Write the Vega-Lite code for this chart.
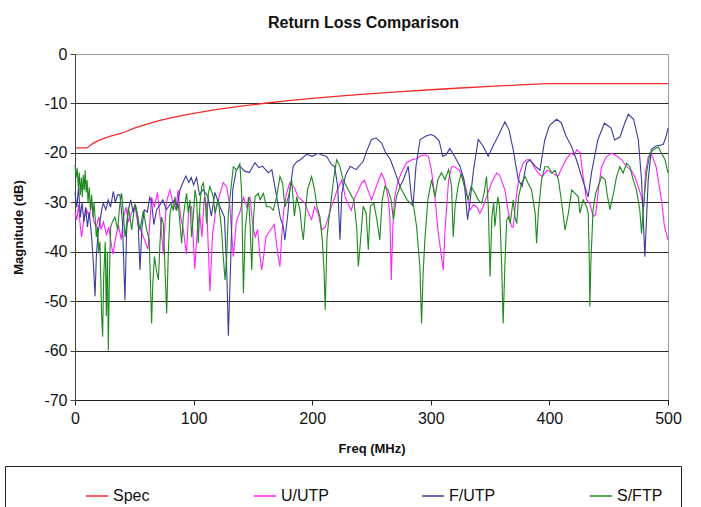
{
  "$schema": "https://vega.github.io/schema/vega-lite/v6.json",
  "autosize": {"type": "none"},
  "padding": {"left": 75, "top": 54, "right": 33, "bottom": 107},
  "width": 593,
  "height": 346,
  "background": "white",
  "config": {
    "font": "Liberation Sans",
    "view": {"stroke": "#9a9a9a", "strokeWidth": 1}
  },
  "title": {
    "text": "Return Loss Comparison",
    "fontSize": 16,
    "fontWeight": "bold",
    "color": "#111",
    "offset": 15,
    "dx": -8
  },
  "datasets": {
    "spec": [
      {"f": 1, "m": -19}, {"f": 5, "m": -19}, {"f": 10, "m": -19}, {"f": 15, "m": -18.12},
      {"f": 20, "m": -17.49}, {"f": 25, "m": -17.01}, {"f": 30, "m": -16.61}, {"f": 40, "m": -15.98},
      {"f": 50, "m": -15.01}, {"f": 60, "m": -14.22}, {"f": 70, "m": -13.55}, {"f": 80, "m": -12.97},
      {"f": 90, "m": -12.46}, {"f": 100, "m": -12}, {"f": 120, "m": -11.21}, {"f": 140, "m": -10.54},
      {"f": 160, "m": -9.96}, {"f": 180, "m": -9.45}, {"f": 200, "m": -8.99}, {"f": 225, "m": -8.48},
      {"f": 250, "m": -8.02}, {"f": 275, "m": -7.61}, {"f": 300, "m": -7.23}, {"f": 325, "m": -6.88},
      {"f": 350, "m": -6.56}, {"f": 375, "m": -6.26}, {"f": 398, "m": -6}, {"f": 450, "m": -6},
      {"f": 500, "m": -6}
    ],
    "utp": [
      {"f": 0, "m": -32}, {"f": 1.5, "m": -33.5}, {"f": 3, "m": -30.5}, {"f": 4.5, "m": -35},
      {"f": 5.6, "m": -37}, {"f": 7.5, "m": -33.5}, {"f": 9.8, "m": -31.5}, {"f": 12, "m": -33},
      {"f": 14, "m": -30}, {"f": 16, "m": -34}, {"f": 18, "m": -35}, {"f": 20, "m": -33},
      {"f": 22, "m": -35.5}, {"f": 24, "m": -34}, {"f": 26.5, "m": -36.5}, {"f": 28.5, "m": -35},
      {"f": 30, "m": -37.5}, {"f": 32, "m": -40.5}, {"f": 34, "m": -37.5}, {"f": 36.5, "m": -34.5},
      {"f": 39, "m": -37.5}, {"f": 41, "m": -33}, {"f": 43, "m": -31}, {"f": 45, "m": -34},
      {"f": 48, "m": -32}, {"f": 50.5, "m": -30.5}, {"f": 53, "m": -34.5}, {"f": 56, "m": -36},
      {"f": 58.5, "m": -37.5}, {"f": 61.5, "m": -39.5}, {"f": 64.6, "m": -29}, {"f": 67, "m": -31},
      {"f": 69.5, "m": -28}, {"f": 72, "m": -33.5}, {"f": 74.5, "m": -40.5}, {"f": 77, "m": -30},
      {"f": 80, "m": -27.5}, {"f": 82.5, "m": -30}, {"f": 85, "m": -31.5}, {"f": 87, "m": -27.5},
      {"f": 89, "m": -33}, {"f": 91, "m": -35}, {"f": 94, "m": -40.5}, {"f": 96, "m": -31},
      {"f": 98.3, "m": -30.9}, {"f": 101, "m": -43.5}, {"f": 103, "m": -36}, {"f": 105, "m": -32},
      {"f": 107, "m": -37}, {"f": 109, "m": -29}, {"f": 111, "m": -30.5}, {"f": 113.8, "m": -48},
      {"f": 116, "m": -36.5}, {"f": 119, "m": -31}, {"f": 122, "m": -28.5}, {"f": 125, "m": -26},
      {"f": 128, "m": -27}, {"f": 130.6, "m": -30.9}, {"f": 133.5, "m": -41}, {"f": 136, "m": -34},
      {"f": 139, "m": -32}, {"f": 142, "m": -29}, {"f": 145, "m": -31}, {"f": 147.5, "m": -28.9},
      {"f": 150, "m": -34.9}, {"f": 152, "m": -37}, {"f": 154, "m": -35.5}, {"f": 156, "m": -41},
      {"f": 157.4, "m": -43.7}, {"f": 159, "m": -41}, {"f": 161, "m": -37}, {"f": 165, "m": -35.5},
      {"f": 168, "m": -34.5}, {"f": 171, "m": -40.5}, {"f": 172.8, "m": -43}, {"f": 174, "m": -38},
      {"f": 176, "m": -31.5}, {"f": 178.4, "m": -28.2}, {"f": 181, "m": -26.1}, {"f": 185, "m": -27},
      {"f": 188, "m": -28.9}, {"f": 191, "m": -29.5}, {"f": 194, "m": -30.2}, {"f": 197, "m": -32.2},
      {"f": 199.5, "m": -33.5}, {"f": 202, "m": -30.9}, {"f": 205, "m": -32.2}, {"f": 208, "m": -35.6},
      {"f": 211, "m": -35}, {"f": 213, "m": -33.5}, {"f": 216, "m": -31}, {"f": 219, "m": -29},
      {"f": 221, "m": -27.5}, {"f": 223, "m": -26.5}, {"f": 225, "m": -25.5}, {"f": 228, "m": -29},
      {"f": 230, "m": -30.2}, {"f": 233, "m": -31.6}, {"f": 236, "m": -29}, {"f": 239, "m": -27.5},
      {"f": 241.6, "m": -26.1}, {"f": 244, "m": -25.5}, {"f": 247, "m": -27.5}, {"f": 250, "m": -29.5},
      {"f": 253, "m": -27.5}, {"f": 256, "m": -25.5}, {"f": 258.4, "m": -24.1}, {"f": 261, "m": -25.5},
      {"f": 264, "m": -29}, {"f": 265.5, "m": -33}, {"f": 266.7, "m": -45.7}, {"f": 268, "m": -35},
      {"f": 269.5, "m": -29}, {"f": 272, "m": -26.1}, {"f": 275, "m": -24.1}, {"f": 279.6, "m": -22},
      {"f": 284, "m": -21.4}, {"f": 288, "m": -21.2}, {"f": 290.8, "m": -20.7}, {"f": 295, "m": -20.4},
      {"f": 298, "m": -20.7}, {"f": 300.5, "m": -23.5}, {"f": 303.5, "m": -28.9}, {"f": 306, "m": -35.6},
      {"f": 309, "m": -41}, {"f": 310.5, "m": -43.7}, {"f": 312, "m": -35.6}, {"f": 315, "m": -25.5},
      {"f": 317.5, "m": -22.8}, {"f": 320, "m": -22.8}, {"f": 324, "m": -23.5}, {"f": 327, "m": -24.8},
      {"f": 330, "m": -27.5}, {"f": 333, "m": -31.6}, {"f": 336, "m": -30.5}, {"f": 339, "m": -31},
      {"f": 341.4, "m": -32.2}, {"f": 344, "m": -31}, {"f": 347, "m": -28.9}, {"f": 351, "m": -26.2},
      {"f": 355.5, "m": -24.1}, {"f": 358, "m": -24.5}, {"f": 362.5, "m": -27.5}, {"f": 365, "m": -31.5},
      {"f": 368, "m": -34.9}, {"f": 369.5, "m": -35}, {"f": 372, "m": -29}, {"f": 375, "m": -24.1},
      {"f": 378, "m": -22}, {"f": 381, "m": -21.4}, {"f": 384, "m": -21.4}, {"f": 387, "m": -22.8},
      {"f": 390.6, "m": -24.1}, {"f": 394, "m": -24.8}, {"f": 398, "m": -23.5}, {"f": 403, "m": -24.1},
      {"f": 407, "m": -24.8}, {"f": 411, "m": -22.8}, {"f": 414.6, "m": -21.1}, {"f": 418, "m": -20.1},
      {"f": 421, "m": -20.4}, {"f": 423, "m": -19.4}, {"f": 426, "m": -20}, {"f": 428, "m": -24},
      {"f": 431.3, "m": -29.5}, {"f": 434, "m": -30.2}, {"f": 437, "m": -32.9}, {"f": 439, "m": -32.5},
      {"f": 441.5, "m": -27}, {"f": 444, "m": -22.8}, {"f": 448, "m": -20.8}, {"f": 452.4, "m": -20.1},
      {"f": 456, "m": -20.5}, {"f": 461, "m": -21.4}, {"f": 465, "m": -22.8}, {"f": 469, "m": -23.5},
      {"f": 472, "m": -24.8}, {"f": 474.9, "m": -26.8}, {"f": 477.5, "m": -28.8}, {"f": 479.5, "m": -31},
      {"f": 481, "m": -24}, {"f": 483.3, "m": -20.8}, {"f": 486, "m": -20.2}, {"f": 490, "m": -22.8},
      {"f": 494.5, "m": -29.5}, {"f": 497, "m": -34.9}, {"f": 500, "m": -37.6}
    ],
    "futp": [
      {"f": 0, "m": -28}, {"f": 1.5, "m": -31}, {"f": 3, "m": -27}, {"f": 4.5, "m": -33},
      {"f": 6, "m": -30}, {"f": 7.5, "m": -34}, {"f": 9, "m": -31}, {"f": 10.5, "m": -35},
      {"f": 12, "m": -32}, {"f": 14, "m": -37}, {"f": 15.5, "m": -42.4}, {"f": 16.9, "m": -49},
      {"f": 18, "m": -41}, {"f": 19.5, "m": -36}, {"f": 21, "m": -34}, {"f": 22.5, "m": -31.5},
      {"f": 23.9, "m": -30.2}, {"f": 26, "m": -31.5}, {"f": 28, "m": -29.5}, {"f": 30, "m": -31},
      {"f": 32.3, "m": -27.8}, {"f": 34, "m": -30}, {"f": 36, "m": -28.5}, {"f": 37.9, "m": -28.5},
      {"f": 40, "m": -34}, {"f": 42.1, "m": -49.8}, {"f": 43.5, "m": -36}, {"f": 45, "m": -31.5},
      {"f": 47, "m": -29.5}, {"f": 49, "m": -32}, {"f": 51, "m": -30.5}, {"f": 53, "m": -33},
      {"f": 54.8, "m": -43.7}, {"f": 56.5, "m": -35}, {"f": 58.5, "m": -31.5}, {"f": 61, "m": -32},
      {"f": 63, "m": -29}, {"f": 64.6, "m": -30}, {"f": 66.5, "m": -34.5}, {"f": 68.8, "m": -31.5},
      {"f": 71.7, "m": -30.5}, {"f": 74, "m": -29.5}, {"f": 77, "m": -31.5}, {"f": 80, "m": -30.5},
      {"f": 84, "m": -29.5}, {"f": 86, "m": -31}, {"f": 88.5, "m": -27.5}, {"f": 91, "m": -26},
      {"f": 93.5, "m": -24.7}, {"f": 96, "m": -26}, {"f": 98, "m": -25}, {"f": 100, "m": -26.5},
      {"f": 102.5, "m": -25}, {"f": 105, "m": -28.5}, {"f": 108, "m": -27.4}, {"f": 112, "m": -28.8},
      {"f": 115, "m": -32.8}, {"f": 118, "m": -28}, {"f": 122, "m": -30.8}, {"f": 126, "m": -33},
      {"f": 128, "m": -44.2}, {"f": 129.3, "m": -57}, {"f": 131, "m": -44.2}, {"f": 133, "m": -27.4},
      {"f": 136, "m": -23.4}, {"f": 139, "m": -22.7}, {"f": 143, "m": -23.7}, {"f": 147, "m": -24},
      {"f": 151.7, "m": -22}, {"f": 155, "m": -23}, {"f": 158, "m": -22.7}, {"f": 163, "m": -24},
      {"f": 166, "m": -23.4}, {"f": 170, "m": -28.8}, {"f": 173, "m": -33}, {"f": 175.6, "m": -34.9},
      {"f": 177, "m": -37.6}, {"f": 179.5, "m": -32.2}, {"f": 181, "m": -28}, {"f": 184, "m": -22.7},
      {"f": 187, "m": -21.8}, {"f": 190, "m": -21.4}, {"f": 195.3, "m": -20.3}, {"f": 200, "m": -20.7},
      {"f": 205, "m": -20.1}, {"f": 209, "m": -20.5}, {"f": 212, "m": -20.7}, {"f": 216.4, "m": -22.4},
      {"f": 219, "m": -22.8}, {"f": 221.5, "m": -26.8}, {"f": 223.4, "m": -37.6}, {"f": 225, "m": -28.2},
      {"f": 228, "m": -24.6}, {"f": 232, "m": -22.7}, {"f": 237, "m": -23.4}, {"f": 243, "m": -21.7},
      {"f": 246, "m": -19.6}, {"f": 250, "m": -17.3}, {"f": 254, "m": -17}, {"f": 258.5, "m": -18},
      {"f": 262, "m": -20}, {"f": 266, "m": -21.4}, {"f": 270, "m": -24}, {"f": 274, "m": -26.8},
      {"f": 277, "m": -25.4}, {"f": 281, "m": -22.7}, {"f": 283.6, "m": -28.8}, {"f": 285, "m": -30.8},
      {"f": 287.5, "m": -22.7}, {"f": 291, "m": -17.3}, {"f": 296, "m": -16.6}, {"f": 300, "m": -16.3},
      {"f": 303, "m": -16.6}, {"f": 307, "m": -17.5}, {"f": 310, "m": -20.7}, {"f": 313, "m": -20.4},
      {"f": 316, "m": -19.1}, {"f": 320, "m": -20.7}, {"f": 324.6, "m": -22.7}, {"f": 328, "m": -25.4},
      {"f": 331, "m": -33.5}, {"f": 333, "m": -30}, {"f": 336, "m": -23.5}, {"f": 340, "m": -17.3},
      {"f": 344, "m": -18.6}, {"f": 348.4, "m": -20.7}, {"f": 352.5, "m": -18.6}, {"f": 357, "m": -16.5},
      {"f": 362.5, "m": -13.7}, {"f": 366, "m": -15.4}, {"f": 369.5, "m": -19.4}, {"f": 373.7, "m": -25.4},
      {"f": 377, "m": -26.8}, {"f": 380.8, "m": -22}, {"f": 383.5, "m": -21.4}, {"f": 388, "m": -22.7},
      {"f": 392, "m": -23.5}, {"f": 396, "m": -17.5}, {"f": 400, "m": -14.5}, {"f": 406, "m": -13.2},
      {"f": 410, "m": -13.9}, {"f": 414, "m": -16.6}, {"f": 418.5, "m": -18.6}, {"f": 422.8, "m": -21.4},
      {"f": 427, "m": -24.7}, {"f": 432.7, "m": -28.9}, {"f": 435.5, "m": -24}, {"f": 440.8, "m": -17.4},
      {"f": 446.4, "m": -14}, {"f": 452, "m": -15}, {"f": 455, "m": -17.4}, {"f": 459.5, "m": -16.8},
      {"f": 463.5, "m": -14}, {"f": 466.5, "m": -12.2}, {"f": 471, "m": -13.2}, {"f": 475, "m": -17.4},
      {"f": 477.7, "m": -25.5}, {"f": 480.5, "m": -41}, {"f": 483.3, "m": -25.5}, {"f": 486, "m": -19.3},
      {"f": 490, "m": -18.6}, {"f": 496, "m": -18.3}, {"f": 498.5, "m": -16.6}, {"f": 500, "m": -15}
    ],
    "sftp": [
      {"f": 0, "m": -22.5}, {"f": 1, "m": -25}, {"f": 1.8, "m": -23}, {"f": 2.8, "m": -27},
      {"f": 3.6, "m": -24}, {"f": 4.5, "m": -28.5}, {"f": 5.4, "m": -25}, {"f": 6.2, "m": -29},
      {"f": 7, "m": -24.5}, {"f": 7.8, "m": -27.5}, {"f": 8.6, "m": -23.5}, {"f": 9.4, "m": -28},
      {"f": 10.2, "m": -25.5}, {"f": 11, "m": -30}, {"f": 12, "m": -27}, {"f": 13, "m": -31.5},
      {"f": 14, "m": -28.5}, {"f": 15, "m": -33}, {"f": 16, "m": -30}, {"f": 16.9, "m": -32.9},
      {"f": 18, "m": -37}, {"f": 19, "m": -35}, {"f": 20, "m": -40}, {"f": 21, "m": -38},
      {"f": 22.5, "m": -53.2}, {"f": 23.3, "m": -57.2}, {"f": 24.2, "m": -45}, {"f": 25.5, "m": -38},
      {"f": 26.4, "m": -53}, {"f": 27.3, "m": -40}, {"f": 28.1, "m": -60}, {"f": 29, "m": -45},
      {"f": 30, "m": -35}, {"f": 31.5, "m": -34}, {"f": 33.7, "m": -33}, {"f": 36, "m": -35.6},
      {"f": 37.5, "m": -31}, {"f": 39.3, "m": -28.2}, {"f": 40.8, "m": -32.2}, {"f": 42.2, "m": -37},
      {"f": 43.6, "m": -34.3}, {"f": 45, "m": -31}, {"f": 46.4, "m": -33}, {"f": 47.8, "m": -35.6},
      {"f": 49, "m": -33}, {"f": 50.6, "m": -30.4}, {"f": 52, "m": -31.7}, {"f": 54.8, "m": -35.6},
      {"f": 57.6, "m": -31.7}, {"f": 60.4, "m": -35.6}, {"f": 62.6, "m": -37.6}, {"f": 64.6, "m": -54.5},
      {"f": 65.6, "m": -46.5}, {"f": 67, "m": -41}, {"f": 68.5, "m": -43.5}, {"f": 70.3, "m": -45.7},
      {"f": 71.7, "m": -38}, {"f": 73, "m": -33}, {"f": 74.5, "m": -34.3}, {"f": 75.9, "m": -43.7},
      {"f": 77.3, "m": -52.5}, {"f": 78.7, "m": -40}, {"f": 80, "m": -32.6}, {"f": 81.5, "m": -30.4},
      {"f": 82.9, "m": -31.7}, {"f": 84.3, "m": -28.9}, {"f": 85.7, "m": -31.7}, {"f": 87.1, "m": -30.4},
      {"f": 88.5, "m": -34.3}, {"f": 89.9, "m": -38.3}, {"f": 91.3, "m": -33}, {"f": 92.7, "m": -30.4},
      {"f": 94.1, "m": -28.2}, {"f": 95.5, "m": -32.2}, {"f": 96.9, "m": -29.5}, {"f": 98.3, "m": -37},
      {"f": 99.7, "m": -33}, {"f": 101.2, "m": -27.5}, {"f": 102.6, "m": -29.5}, {"f": 103.9, "m": -38.3},
      {"f": 105.4, "m": -30.2}, {"f": 106.8, "m": -26.8}, {"f": 108.2, "m": -26.1}, {"f": 109.6, "m": -28.9},
      {"f": 111, "m": -34.3}, {"f": 112.4, "m": -28.2}, {"f": 113.8, "m": -26.8}, {"f": 116.6, "m": -28.9},
      {"f": 118, "m": -32.2}, {"f": 120.8, "m": -29.5}, {"f": 123.6, "m": -35.6}, {"f": 125, "m": -41},
      {"f": 126.5, "m": -45.7}, {"f": 127.9, "m": -41}, {"f": 129.3, "m": -32.2}, {"f": 132, "m": -26.1},
      {"f": 133.5, "m": -22.8}, {"f": 136.3, "m": -23.5}, {"f": 139, "m": -22.2}, {"f": 140.5, "m": -28},
      {"f": 142, "m": -48.4}, {"f": 143.5, "m": -35.6}, {"f": 144.9, "m": -32.2}, {"f": 146.3, "m": -28.9},
      {"f": 147.7, "m": -35}, {"f": 149, "m": -43.7}, {"f": 150.4, "m": -33.6}, {"f": 151.8, "m": -28.9},
      {"f": 154.6, "m": -28.2}, {"f": 156, "m": -29.5}, {"f": 158.8, "m": -28.2}, {"f": 161.6, "m": -30.9},
      {"f": 164.4, "m": -30.9}, {"f": 167.2, "m": -31.6}, {"f": 170, "m": -28.9}, {"f": 172.8, "m": -24.8},
      {"f": 175, "m": -26.1}, {"f": 177, "m": -30.9}, {"f": 180, "m": -28.9}, {"f": 182.7, "m": -25.4},
      {"f": 185, "m": -32.8}, {"f": 186.9, "m": -28.9}, {"f": 189.7, "m": -31.6}, {"f": 191, "m": -35},
      {"f": 192.5, "m": -37.6}, {"f": 194.5, "m": -31.6}, {"f": 196, "m": -27.5}, {"f": 199.5, "m": -24.8},
      {"f": 202, "m": -27.5}, {"f": 204, "m": -30.9}, {"f": 206.5, "m": -32.9}, {"f": 208.5, "m": -37.6},
      {"f": 210, "m": -44}, {"f": 211, "m": -51.8}, {"f": 212.5, "m": -37}, {"f": 214, "m": -33.5},
      {"f": 216, "m": -29.5}, {"f": 218, "m": -25.4}, {"f": 220.6, "m": -21.4}, {"f": 223, "m": -22.5},
      {"f": 226, "m": -25.4}, {"f": 229, "m": -26.8}, {"f": 232, "m": -28.2}, {"f": 235, "m": -29.5},
      {"f": 237.5, "m": -35}, {"f": 238.9, "m": -43}, {"f": 240.5, "m": -38.5}, {"f": 243, "m": -30.8},
      {"f": 245.5, "m": -32.2}, {"f": 247.3, "m": -39.6}, {"f": 249, "m": -30.8}, {"f": 252, "m": -30.2},
      {"f": 254.5, "m": -33.5}, {"f": 257, "m": -37.6}, {"f": 259, "m": -29.5}, {"f": 261.3, "m": -26.8},
      {"f": 264, "m": -27.5}, {"f": 266.5, "m": -29.5}, {"f": 268.5, "m": -33.5}, {"f": 271, "m": -28.9},
      {"f": 274, "m": -26.8}, {"f": 277, "m": -28.2}, {"f": 280, "m": -29.5}, {"f": 283, "m": -30.2},
      {"f": 285.5, "m": -30.8}, {"f": 288, "m": -34.9}, {"f": 290.8, "m": -43}, {"f": 292.2, "m": -54.5},
      {"f": 293.5, "m": -44.5}, {"f": 295, "m": -37.6}, {"f": 297.5, "m": -29.5}, {"f": 300.7, "m": -25.4},
      {"f": 303.5, "m": -28.9}, {"f": 306, "m": -25.4}, {"f": 309, "m": -24}, {"f": 312, "m": -25.4},
      {"f": 315, "m": -23.4}, {"f": 317.5, "m": -26.8}, {"f": 318.9, "m": -37}, {"f": 320.5, "m": -30.8},
      {"f": 323, "m": -26.8}, {"f": 325.5, "m": -24.2}, {"f": 328.7, "m": -27.2}, {"f": 331.5, "m": -29.5},
      {"f": 334, "m": -26.8}, {"f": 337, "m": -28}, {"f": 340, "m": -29.5}, {"f": 343, "m": -30.2},
      {"f": 345, "m": -28}, {"f": 347, "m": -24.8}, {"f": 348.5, "m": -31}, {"f": 350, "m": -45},
      {"f": 351.5, "m": -33}, {"f": 353, "m": -30}, {"f": 354, "m": -34.9}, {"f": 356.5, "m": -28.9},
      {"f": 358, "m": -30.9}, {"f": 359.7, "m": -42.4}, {"f": 361, "m": -54.5}, {"f": 362.5, "m": -42.4},
      {"f": 364, "m": -33.6}, {"f": 365.5, "m": -32.9}, {"f": 367, "m": -34.3}, {"f": 368, "m": -32.2},
      {"f": 369.5, "m": -29.5}, {"f": 371, "m": -33}, {"f": 372.5, "m": -34.3}, {"f": 374, "m": -28.9},
      {"f": 376.6, "m": -26.1}, {"f": 379.5, "m": -24.8}, {"f": 382, "m": -26.1}, {"f": 385, "m": -27.5},
      {"f": 388, "m": -32.2}, {"f": 389.2, "m": -38.3}, {"f": 390.6, "m": -32.2}, {"f": 393.4, "m": -25.4},
      {"f": 396.2, "m": -22.8}, {"f": 399, "m": -22.8}, {"f": 402, "m": -24.1}, {"f": 404.8, "m": -23.5},
      {"f": 407.6, "m": -25.4}, {"f": 410.4, "m": -30.2}, {"f": 413.2, "m": -35.6}, {"f": 416, "m": -32.2},
      {"f": 418.8, "m": -27.5}, {"f": 421.6, "m": -28.2}, {"f": 424.4, "m": -28.9}, {"f": 425.7, "m": -32.2},
      {"f": 428.5, "m": -29.5}, {"f": 431.3, "m": -30.9}, {"f": 432.7, "m": -32.2}, {"f": 433.5, "m": -40},
      {"f": 434.1, "m": -51.1}, {"f": 435, "m": -42}, {"f": 436.8, "m": -31.5}, {"f": 439, "m": -28.2},
      {"f": 441, "m": -26.8}, {"f": 444, "m": -24.8}, {"f": 447, "m": -25.4}, {"f": 448.6, "m": -28.2},
      {"f": 451, "m": -31.5}, {"f": 454, "m": -28.2}, {"f": 456.6, "m": -24.8}, {"f": 459.4, "m": -22.8},
      {"f": 462.2, "m": -24.1}, {"f": 465, "m": -22.1}, {"f": 467.8, "m": -22.8}, {"f": 470.6, "m": -25.4},
      {"f": 473.4, "m": -27.5}, {"f": 476.2, "m": -31.5}, {"f": 477.7, "m": -36.3}, {"f": 479.1, "m": -31.5},
      {"f": 481.9, "m": -24.1}, {"f": 484.7, "m": -20.1}, {"f": 487.5, "m": -19.4}, {"f": 491.8, "m": -18.8},
      {"f": 494.5, "m": -20.1}, {"f": 497.5, "m": -21.4}, {"f": 500, "m": -24.1}
    ]
  },
  "encoding": {
    "x": {
      "field": "f",
      "type": "quantitative",
      "title": "Freq (MHz)",
      "scale": {"domain": [0, 500], "nice": false},
      "axis": {
        "values": [0, 100, 200, 300, 400, 500],
        "grid": false,
        "labelFlush": false,
        "domainColor": "#222",
        "tickColor": "#222",
        "tickSize": 5,
        "labelFontSize": 16,
        "labelColor": "#111",
        "labelPadding": 5,
        "titleFontSize": 13,
        "titleFontWeight": "bold",
        "titleColor": "#111",
        "titlePadding": 16
      }
    },
    "y": {
      "field": "m",
      "type": "quantitative",
      "title": "Magnitude (dB)",
      "scale": {"domain": [-70, 0], "nice": false},
      "axis": {
        "values": [-70, -60, -50, -40, -30, -20, -10, 0],
        "labelExpr": "replace(datum.label, '\u2212', '-')",
        "grid": true,
        "gridColor": {"condition": {"test": "datum.value === 0", "value": "#a0a0a0"}, "value": "#2a2a2a"},
        "gridOpacity": 1,
        "labelFlush": false,
        "domainColor": "#444",
        "tickColor": "#444",
        "tickSize": 5,
        "labelFontSize": 16,
        "labelColor": "#111",
        "labelPadding": 3,
        "titleFontSize": 13,
        "titleFontWeight": "bold",
        "titleColor": "#111",
        "titlePadding": 18
      }
    }
  },
  "layer": [
    {
      "data": {"name": "spec"},
      "mark": {"type": "line", "strokeWidth": 1.3, "interpolate": "linear"},
      "encoding": {
        "color": {
          "datum": "Spec",
          "type": "nominal",
          "scale": {
            "domain": ["Spec", "U/UTP", "F/UTP", "S/FTP"],
            "range": ["#f02c2c", "#ff22ff", "#3b3b9e", "#1c8a1c"]
          },
          "legend": {
            "title": null,
            "orient": "none",
            "legendX": -70,
            "legendY": 412,
            "direction": "horizontal",
            "columns": 4,
            "gridAlign": "all",
            "columnPadding": 30,
            "padding": 18,
            "strokeColor": "#222",
            "fillColor": "white",
            "symbolType": "stroke",
            "symbolSize": 500,
            "symbolStrokeWidth": 1.5,
            "symbolOffset": 62,
            "labelOffset": 4,
            "labelFontSize": 16,
            "labelColor": "#111"
          }
        }
      }
    },
    {
      "data": {"name": "utp"},
      "mark": {"type": "line", "strokeWidth": 1.1},
      "encoding": {"color": {"datum": "U/UTP", "type": "nominal"}}
    },
    {
      "data": {"name": "futp"},
      "mark": {"type": "line", "strokeWidth": 1.1},
      "encoding": {"color": {"datum": "F/UTP", "type": "nominal"}}
    },
    {
      "data": {"name": "sftp"},
      "mark": {"type": "line", "strokeWidth": 1.1},
      "encoding": {"color": {"datum": "S/FTP", "type": "nominal"}}
    }
  ]
}
